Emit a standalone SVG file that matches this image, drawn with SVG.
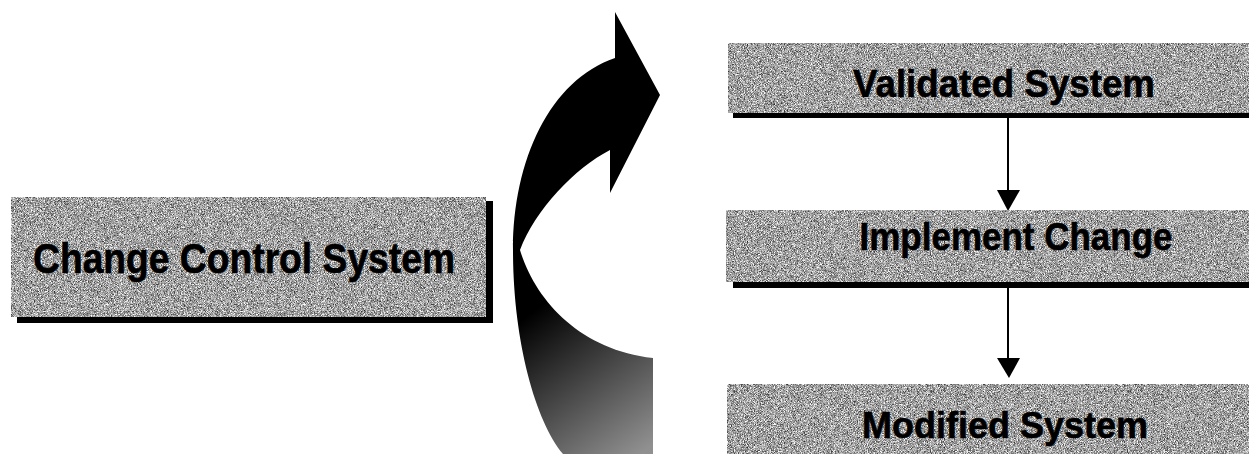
<svg xmlns="http://www.w3.org/2000/svg" width="1249" height="454" viewBox="0 0 1249 454">
<style>
.box{fill:#a0a0a0;filter:url(#tex)}
.shadow{fill:#000}
.lbl{font-family:"Liberation Sans",Arial,sans-serif;font-weight:bold;fill:#000;stroke:#000;stroke-width:0.6;text-anchor:middle}
.conn{stroke:#000;stroke-width:2;fill:none}
.head{fill:#000}
</style>
<defs>
<filter id="tex" x="0" y="0" width="100%" height="100%" color-interpolation-filters="sRGB">
<feTurbulence type="fractalNoise" baseFrequency="1.3" numOctaves="1" seed="4" result="n"/>
<feColorMatrix in="n" type="matrix" values="1.6 0 0 0 -0.17  1.6 0 0 0 -0.17  1.6 0 0 0 -0.17  0 0 0 0 1" result="g"/>
<feComposite in="g" in2="SourceGraphic" operator="in"/>
</filter>
<linearGradient id="arrowGrad" gradientUnits="userSpaceOnUse" x1="535" y1="310" x2="640" y2="454">
<stop offset="0" stop-color="#000"/>
<stop offset="1" stop-color="#909090"/>
</linearGradient>
</defs>
<rect width="1249" height="454" fill="#fff"/>

<g id="change-control-system">
<rect class="shadow" x="17" y="201" width="476" height="122"/>
<rect class="box" x="11" y="197" width="475" height="120"/>
<text class="lbl" x="244" y="273" font-size="42" textLength="422" lengthAdjust="spacingAndGlyphs">Change Control System</text>
</g>

<g id="curved-arrow">
<path d="M 615,58 L 615,12 L 660,95 L 610,193 L 610,150 C 575,168 535,210 520,250 C 535,300 580,350 653,358 L 653,454 L 563,454 C 535,420 513,340 513,250 C 513,160 550,80 615,58 Z" fill="url(#arrowGrad)"/>
</g>

<g id="validated-system">
<rect class="shadow" x="733" y="48" width="516" height="70"/>
<rect class="box" x="728" y="43" width="521" height="70"/>
<text class="lbl" x="1004" y="97" font-size="38" textLength="302" lengthAdjust="spacingAndGlyphs">Validated System</text>
</g>

<g id="implement-change">
<rect class="shadow" x="733" y="216" width="516" height="72"/>
<rect class="box" x="726" y="210" width="523" height="72"/>
<text class="lbl" x="1016" y="250" font-size="38" textLength="313" lengthAdjust="spacingAndGlyphs">Implement Change</text>
</g>

<g id="modified-system">
<rect class="box" x="727" y="384" width="522" height="70"/>
<text class="lbl" x="1005" y="438" font-size="36" textLength="286" lengthAdjust="spacingAndGlyphs">Modified System</text>
</g>

<g id="connectors">
<line class="conn" x1="1008" y1="118" x2="1008" y2="192"/>
<polygon class="head" points="997,190 1020,190 1008,211"/>
<line class="conn" x1="1008" y1="288" x2="1008" y2="360"/>
<polygon class="head" points="997,358 1020,358 1009,378"/>
</g>
</svg>
